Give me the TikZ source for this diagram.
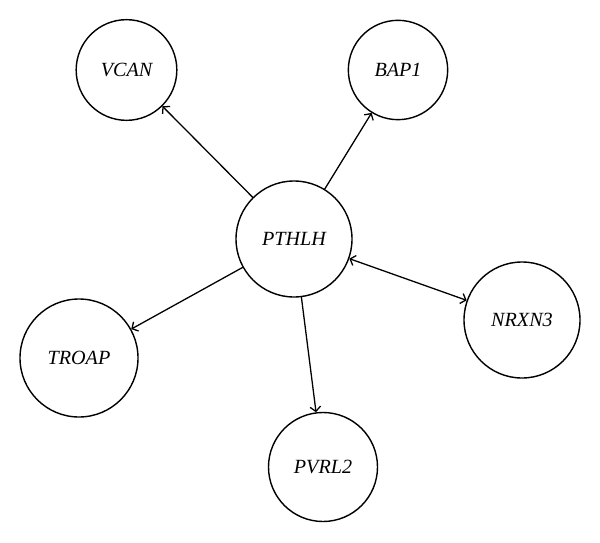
\documentclass[tikz,border=0pt]{standalone}
\usepackage{fontspec}
\setmainfont{Liberation Serif}
\usetikzlibrary{arrows.meta}
\tikzset{gene/.style={circle, draw, line width=1.2pt, inner sep=0pt}}
\begin{document}
\begin{tikzpicture}[x=0.03cm, y=-0.03cm, >={Straight Barb[length=4pt,width=9pt]}, font=\fontsize{17.2}{20}\selectfont\itshape, line join=round, line cap=round]
	\useasboundingbox (0,0) rectangle (600,542);
	\node[gene, minimum size=3.48cm] (pthlh) at (294,239) {PTHLH};
	\node[gene, minimum size=3.02cm] (vcan) at (126.5,70) {VCAN};
	\node[gene, minimum size=2.98cm] (bap1) at (398,70) {BAP1};
	\node[gene, minimum size=3.48cm] (nrxn3) at (522,320) {NRXN3};
	\node[gene, minimum size=3.54cm] (troap) at (79,358) {TROAP};
	\node[gene, minimum size=3.27cm] (pvrl2) at (323,467) {PVRL2};
	\draw[->, line width=1.1pt] (pthlh) -- (vcan);
	\draw[->, line width=1.1pt] (pthlh) -- (bap1);
	\draw[<->, line width=1.1pt] (pthlh) -- (nrxn3);
	\draw[->, line width=1.1pt] (pthlh) -- (troap);
	\draw[->, line width=1.1pt] (pthlh) -- (pvrl2);
\end{tikzpicture}
\end{document}
